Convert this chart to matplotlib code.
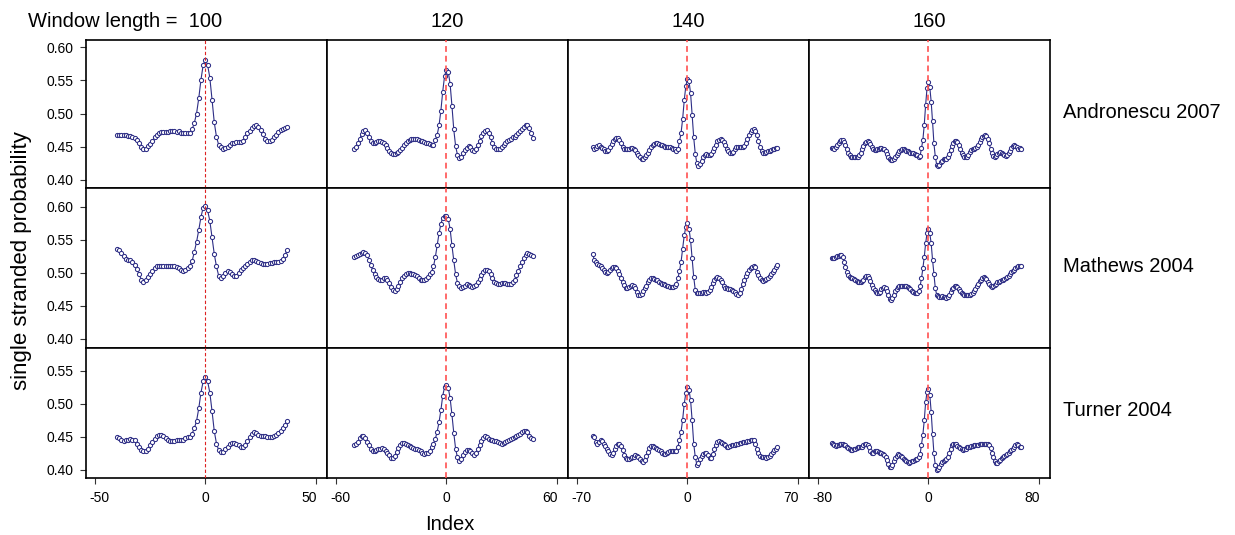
import numpy as np
import matplotlib
matplotlib.use('Agg')
import matplotlib.pyplot as plt
from matplotlib.transforms import ScaledTranslation

plt.rcParams['font.family'] = ['Liberation Sans', 'DejaVu Sans']

windows = [100, 120, 140, 160]
starts = [-40, -50, -60, -70]      # first index of each window
models = ['Andronescu 2007', 'Mathews 2004', 'Turner 2004']

# single stranded probability x 1000, one list per panel
andronescu_100 = [468, 468, 468, 467, 467, 466, 466, 465, 463, 460,
                  456, 450, 447, 447, 451, 454, 458, 464, 468, 471,
                  472, 472, 472, 472, 473, 473, 473, 472, 473, 471,
                  471, 471, 470, 470, 476, 486, 500, 523, 551, 573,
                  581, 573, 554, 521, 487, 465, 453, 449, 446, 448,
                  450, 453, 455, 456, 457, 457, 457, 459, 465, 470,
                  474, 478, 481, 483, 480, 475, 469, 461, 458, 458,
                  460, 464, 468, 472, 475, 477, 478, 480]
andronescu_120 = [446, 450, 455, 462, 469, 474, 475, 471, 465, 459,
                  455, 455, 457, 458, 458, 457, 455, 452, 448, 444,
                  440, 439, 439, 440, 442, 445, 448, 452, 455, 458,
                  460, 461, 462, 462, 461, 460, 459, 458, 457, 456,
                  455, 454, 453, 453, 460, 468, 482, 504, 533, 556,
                  566, 563, 545, 512, 476, 451, 438, 433, 435, 440,
                  445, 448, 451, 449, 445, 443, 446, 452, 459, 466,
                  471, 474, 475, 471, 464, 456, 450, 447, 446, 447,
                  450, 453, 456, 458, 460, 462, 464, 465, 467, 470,
                  473, 477, 480, 482, 483, 478, 470, 463]
andronescu_140 = [450, 446, 448, 451, 452, 450, 448, 446, 444, 443,
                  445, 449, 454, 459, 462, 463, 463, 460, 455, 450,
                  447, 447, 447, 447, 448, 448, 447, 445, 441, 437,
                  434, 432, 432, 434, 437, 441, 445, 449, 452, 454,
                  455, 455, 454, 453, 452, 451, 450, 450, 449, 449,
                  448, 447, 446, 444, 446, 458, 471, 492, 520, 541,
                  552, 549, 531, 498, 464, 439, 425, 421, 424, 429,
                  434, 437, 439, 438, 437, 439, 443, 448, 453, 458,
                  460, 461, 460, 457, 452, 447, 443, 440, 440, 442,
                  446, 449, 450, 450, 450, 450, 451, 455, 461, 467,
                  472, 475, 476, 474, 468, 458, 449, 443, 441, 441,
                  442, 443, 444, 445, 446, 447, 448, 448]
andronescu_160 = [448, 448, 447, 449, 452, 456, 459, 460, 460, 457,
                  452, 446, 441, 437, 435, 434, 434, 434, 434, 435,
                  437, 441, 446, 451, 455, 457, 458, 457, 454, 450,
                  447, 445, 445, 446, 447, 448, 448, 447, 446, 443,
                  439, 435, 432, 430, 430, 432, 435, 438, 441, 443,
                  445, 446, 446, 445, 444, 443, 442, 441, 441, 440,
                  439, 438, 437, 434, 436, 448, 460, 483, 513, 538,
                  547, 540, 518, 488, 455, 435, 423, 421, 423, 427,
                  429, 431, 432, 432, 434, 439, 445, 451, 456, 459,
                  459, 457, 452, 446, 441, 437, 435, 434, 435, 438,
                  442, 445, 447, 447, 448, 450, 453, 457, 461, 464,
                  466, 467, 466, 462, 455, 447, 440, 436, 435, 436,
                  439, 441, 442, 441, 439, 437, 436, 437, 440, 444,
                  448, 451, 452, 451, 449, 447, 448, 447]

mathews_100 = [536, 535, 530, 525, 521, 520, 519, 516, 512, 506,
               498, 490, 487, 490, 494, 499, 503, 507, 510, 511,
               511, 511, 511, 511, 510, 511, 510, 509, 507, 504,
               503, 504, 507, 511, 518, 532, 547, 565, 585, 599,
               602, 595, 579, 554, 529, 510, 496, 493, 496, 500,
               503, 501, 498, 495, 496, 500, 504, 507, 510, 513,
               516, 519, 519, 518, 517, 515, 514, 514, 514, 515,
               515, 516, 516, 517, 518, 521, 527, 535]
mathews_120 = [524, 525, 527, 529, 531, 532, 531, 527, 520, 512,
               504, 498, 494, 491, 489, 490, 492, 492, 490, 485,
               479, 474, 473, 476, 481, 487, 492, 496, 498, 500,
               500, 499, 498, 497, 495, 493, 490, 489, 489, 491,
               494, 498, 502, 510, 524, 542, 560, 574, 584, 586,
               587, 582, 567, 542, 519, 498, 485, 480, 478, 479,
               481, 483, 482, 480, 479, 480, 482, 486, 491, 497,
               502, 504, 505, 503, 498, 492, 487, 485, 484, 484,
               485, 485, 485, 484, 484, 484, 486, 490, 497, 503,
               510, 516, 522, 527, 530, 529, 527, 525]
mathews_140 = [529, 520, 516, 514, 512, 510, 508, 505, 502, 500,
               501, 504, 507, 509, 509, 507, 503, 498, 493, 487,
               482, 478, 478, 479, 481, 482, 481, 477, 471, 467,
               466, 468, 472, 477, 481, 486, 490, 492, 492, 491,
               490, 489, 487, 485, 484, 483, 482, 481, 480, 479,
               479, 479, 480, 483, 492, 503, 517, 537, 557, 570,
               575, 567, 550, 522, 494, 474, 469, 469, 470, 470,
               471, 471, 470, 471, 474, 479, 485, 490, 493, 494,
               493, 490, 486, 481, 478, 477, 476, 475, 474, 473,
               471, 468, 467, 470, 476, 483, 490, 496, 500, 504,
               507, 509, 510, 509, 501, 497, 492, 490, 488, 489,
               491, 493, 496, 499, 502, 505, 509, 512]
mathews_160 = [522, 522, 523, 524, 525, 526, 527, 528, 524, 517,
               509, 502, 497, 494, 493, 492, 491, 490, 488, 487,
               486, 486, 488, 490, 494, 496, 496, 493, 488, 482,
               477, 474, 471, 470, 469, 471, 475, 478, 479, 477,
               473, 467, 461, 459, 462, 467, 472, 476, 479, 480,
               481, 481, 481, 481, 480, 479, 477, 475, 473, 471,
               469, 469, 470, 473, 480, 492, 507, 524, 545, 560,
               566, 560, 545, 520, 498, 477, 467, 465, 464, 464,
               465, 464, 463, 462, 463, 466, 471, 475, 478, 480,
               480, 479, 476, 473, 470, 468, 466, 466, 466, 467,
               467, 468, 470, 473, 476, 480, 484, 488, 490, 492,
               494, 493, 491, 487, 484, 481, 479, 480, 482, 484,
               486, 487, 488, 489, 490, 491, 493, 494, 496, 499,
               501, 503, 505, 507, 509, 510, 511, 510]

turner_100 = [450, 449, 446, 444, 445, 446, 447, 446, 445, 440,
              435, 430, 429, 429, 432, 437, 442, 447, 452, 453,
              453, 451, 448, 445, 444, 444, 444, 445, 445, 445,
              446, 448, 450, 450, 455, 463, 474, 493, 517, 534,
              541, 534, 517, 489, 459, 440, 430, 427, 427, 431,
              435, 440, 441, 441, 439, 437, 435, 434, 437, 444,
              450, 455, 458, 456, 453, 452, 451, 451, 450, 450,
              450, 452, 453, 456, 459, 463, 468, 474]
turner_120 = [437, 439, 443, 448, 452, 452, 449, 443, 437, 432,
              429, 429, 430, 431, 432, 433, 432, 429, 426, 422,
              418, 418, 421, 427, 433, 438, 441, 441, 440, 438,
              436, 434, 433, 432, 431, 430, 428, 426, 424, 425,
              426, 429, 434, 440, 447, 458, 472, 490, 512, 525,
              528, 524, 509, 484, 456, 432, 419, 414, 417, 422,
              427, 430, 430, 429, 425, 422, 425, 431, 438, 444,
              448, 451, 450, 447, 446, 445, 444, 444, 443, 441,
              440, 441, 443, 444, 445, 447, 448, 450, 452, 453,
              455, 457, 459, 459, 457, 452, 448, 447]
turner_140 = [452, 450, 443, 440, 443, 446, 444, 440, 436, 432,
              428, 424, 423, 426, 431, 436, 440, 440, 436, 430,
              423, 418, 416, 417, 418, 419, 420, 422, 421, 419,
              416, 413, 412, 415, 421, 427, 433, 436, 436, 435,
              433, 432, 430, 428, 426, 424, 424, 425, 427, 428,
              429, 429, 428, 428, 435, 445, 458, 476, 500, 516,
              525, 521, 506, 475, 440, 419, 408, 410, 416, 421,
              424, 426, 425, 422, 418, 418, 424, 431, 438, 442,
              444, 443, 441, 439, 437, 435, 434, 436, 438, 437,
              438, 439, 440, 441, 441, 442, 442, 443, 444, 444,
              445, 445, 446, 440, 432, 425, 421, 420, 420, 419,
              418, 419, 421, 424, 427, 430, 432, 434]
turner_160 = [441, 440, 438, 436, 437, 438, 440, 440, 439, 438,
              437, 435, 433, 431, 430, 430, 431, 432, 433, 434,
              434, 434, 435, 437, 439, 439, 438, 434, 429, 426,
              426, 428, 428, 428, 427, 426, 425, 424, 422, 419,
              415, 409, 405, 404, 407, 413, 418, 421, 424, 423,
              421, 419, 417, 415, 413, 412, 411, 412, 413, 414,
              415, 416, 417, 419, 424, 438, 453, 475, 502, 518,
              522, 514, 488, 455, 425, 407, 400, 401, 405, 409,
              412, 414, 415, 416, 420, 426, 432, 437, 439, 440,
              439, 436, 435, 433, 431, 430, 431, 432, 434, 434,
              435, 436, 436, 437, 437, 438, 438, 439, 439, 440,
              440, 440, 440, 440, 438, 433, 425, 419, 414, 411,
              411, 413, 415, 418, 420, 421, 423, 424, 426, 428,
              430, 432, 435, 438, 439, 437, 435, 435]

series = [[andronescu_100, andronescu_120, andronescu_140, andronescu_160],
          [mathews_100, mathews_120, mathews_140, mathews_160],
          [turner_100, turner_120, turner_140, turner_160]]

W, H = 1235, 535
fig = plt.figure(figsize=(W / 100, H / 100), dpi=100)

# panel edges in pixels
col_edges = [86, 327, 568, 809, 1050]
row_edges = [40, 187.7, 348.3, 478]
ylims = [(0.3884, 0.6106), (0.3859, 0.6292), (0.3879, 0.5838)]
yticks = [[0.40, 0.45, 0.50, 0.55, 0.60],
          [0.40, 0.45, 0.50, 0.55, 0.60],
          [0.40, 0.45, 0.50, 0.55]]
xticks = [[-50, 0, 50], [-60, 0, 60], [-70, 0, 70], [-80, 0, 80]]

navy = '#2e2e86'

for r in range(3):
    for c in range(4):
        x0, x1 = col_edges[c], col_edges[c + 1]
        y0, y1 = row_edges[r], row_edges[r + 1]
        ax = fig.add_axes([x0 / W, 1 - y1 / H, (x1 - x0) / W, (y1 - y0) / H])
        vals = np.array(series[r][c]) / 1000.0
        idx = np.arange(starts[c], starts[c] + len(vals))
        ax.plot(idx, vals, '-', color=navy, lw=0.8, marker='o', ms=3.0,
                mfc='white', mec=navy, mew=0.75, zorder=2)
        if c == 0:
            ax.axvline(0, color='#dd2222', lw=0.8, ls=(0, (3, 2)), zorder=3)
        else:
            ax.axvline(0, color='#ff5050', lw=1.4, ls=(0, (3, 2)), zorder=3, alpha=0.85)
        w = windows[c]
        ax.set_xlim(-0.54 * w, 0.55 * w)
        ax.set_ylim(*ylims[r])
        for s in ax.spines.values():
            s.set_linewidth(1.2)
            s.set_color('black')
        ax.tick_params(direction='out', length=4, width=0.8, color='#333333',
                       labelsize=10, pad=5)
        if c == 0:
            ax.set_yticks(yticks[r])
            ax.set_yticklabels(['%.2f' % t for t in yticks[r]])
        else:
            ax.set_yticks([])
        if r == 2:
            ax.set_xticks(xticks[c])
            labs = ax.set_xticklabels([str(t) for t in xticks[c]])
            # labels sit a little inside the outer ticks, as in the original
            for t, lab in zip(xticks[c], labs):
                dx = 5 if t < 0 else (-7 if t > 0 else 0)
                lab.set_transform(lab.get_transform() +
                                  ScaledTranslation(dx / 100, 0, fig.dpi_scale_trans))
        else:
            ax.set_xticks([])

fs = 14.5
fig.text(222 / W, 1 - 27 / H, 'Window length =  100', ha='right', va='baseline', fontsize=fs)
for c in range(1, 4):
    cx = (col_edges[c] + col_edges[c + 1]) / 2
    fig.text(cx / W, 1 - 27 / H, str(windows[c]), ha='center', va='baseline', fontsize=fs)

for r, (name, yb) in enumerate(zip(models, [118, 272, 416])):
    fig.text(1063 / W, 1 - yb / H, name, ha='left', va='baseline', fontsize=fs)

fig.text(22 / W, 1 - 261 / H, 'single stranded probability', rotation=90,
         ha='center', va='center', fontsize=16)
fig.text(450 / W, 1 - 530 / H, 'Index', ha='center', va='baseline', fontsize=fs)

fig.savefig('out.png', dpi=100)
